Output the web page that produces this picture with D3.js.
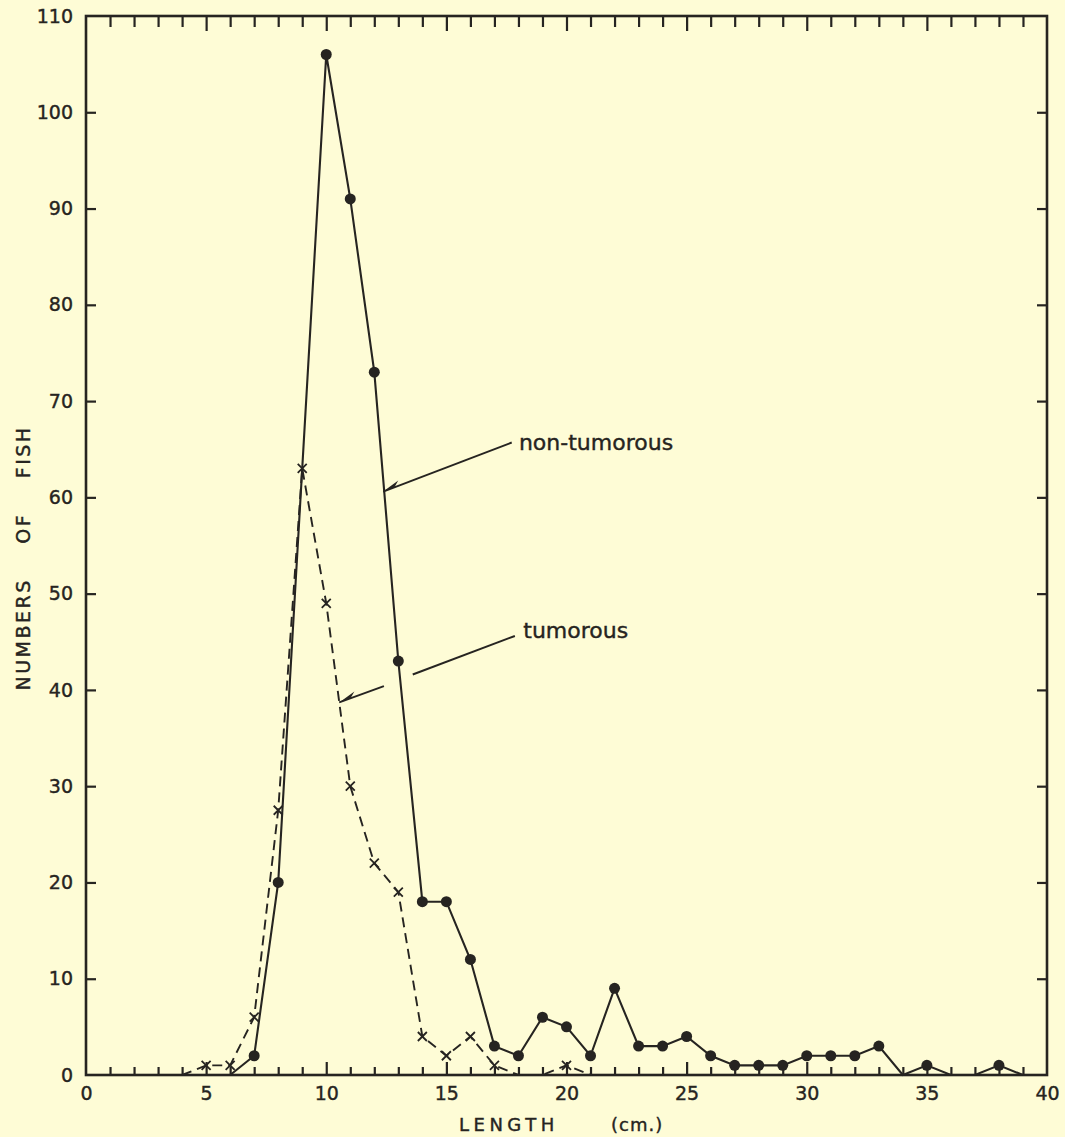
<!DOCTYPE html>
<html>
<head>
<meta charset="utf-8">
<script src="https://cdn.jsdelivr.net/npm/d3@7"></script>
<style>
  body { margin: 0; background: #fefcd6; }
  svg { display: block; }
</style>
</head>
<body>
<svg id="chart"></svg>
<script>
// lengths (cm) and counts
var nonTumorousLength = [6, 7, 8, 10, 11, 12, 13, 14, 15, 16, 17, 18, 19, 20, 21, 22, 23, 24, 25, 26, 27, 28, 29, 30, 31, 32, 33, 34, 35, 36, 37, 38, 39];
var nonTumorousCount  = [0, 2, 20, 106, 91, 73, 43, 18, 18, 12, 3, 2, 6, 5, 2, 9, 3, 3, 4, 2, 1, 1, 1, 2, 2, 2, 3, 0, 1, 0, 0, 1, 0];

var tumorousLength = [4, 5, 6, 7, 8, 9, 10, 11, 12, 13, 14, 15, 16, 17, 18, 19, 20, 21];
var tumorousCount  = [0, 1, 1, 6, 27.5, 63, 49, 30, 22, 19, 4, 2, 4, 1, 0, 0, 1, 0];

var xTickLabels = [0, 5, 10, 15, 20, 25, 30, 35, 40];
var yTickLabels = [0, 10, 20, 30, 40, 50, 60, 70, 80, 90, 100, 110];

var width = 1065, height = 1137;
var ink = "#262421";
var font = "'DejaVu Sans', sans-serif";

var svg = d3.select("#chart")
    .attr("width", width)
    .attr("height", height)
    .style("background", "#fefcd6");

var x = d3.scaleLinear().domain([0, 40]).range([86, 1047]);
var y = d3.scaleLinear().domain([0, 110]).range([1075, 16]);

var nonTum = nonTumorousLength.map(function(l, i) { return [l, nonTumorousCount[i]]; });
var tum = tumorousLength.map(function(l, i) { return [l, tumorousCount[i]]; });

// frame
svg.append("rect")
    .attr("x", x(0)).attr("y", y(110))
    .attr("width", x(40) - x(0)).attr("height", y(0) - y(110))
    .attr("fill", "none").attr("stroke", ink).attr("stroke-width", 2.6);

var everyCm = d3.range(0, 41);

// bottom axis, ticks inward
var gBottom = svg.append("g")
    .attr("transform", "translate(0," + y(0) + ")")
    .call(d3.axisBottom(x).tickValues(everyCm).tickSizeInner(-8).tickSizeOuter(0).tickPadding(12)
        .tickFormat(function(d) { return xTickLabels.indexOf(d) >= 0 ? d : ""; }));
gBottom.selectAll(".tick line").filter(function(d) { return d % 5 === 0; }).attr("y2", -13);

// top axis, ticks inward
var gTop = svg.append("g")
    .attr("transform", "translate(0," + y(110) + ")")
    .call(d3.axisTop(x).tickValues(everyCm).tickSizeInner(-11).tickSizeOuter(0).tickFormat(""));
gTop.selectAll(".tick line").filter(function(d) { return d % 5 === 0; }).attr("y2", 15);

// left axis
var gLeft = svg.append("g")
    .attr("transform", "translate(" + x(0) + ",0)")
    .call(d3.axisLeft(y).tickValues(yTickLabels).tickSizeInner(-10).tickSizeOuter(0).tickPadding(13));

// right axis
var gRight = svg.append("g")
    .attr("transform", "translate(" + x(40) + ",0)")
    .call(d3.axisRight(y).tickValues(yTickLabels).tickSizeInner(-10).tickSizeOuter(0).tickFormat(""));

svg.selectAll(".domain").remove();
svg.selectAll(".tick line").attr("stroke", ink).attr("stroke-width", 2.2);
svg.selectAll(".tick text").attr("fill", ink)
    .attr("stroke", ink).attr("stroke-width", 0.4)
    .style("font-family", font).style("font-size", "19px");
// edge ticks sit on the frame anyway
gLeft.selectAll(".tick line").filter(function(d) { return d === 0 || d === 110; }).remove();
gRight.selectAll(".tick line").filter(function(d) { return d === 0 || d === 110; }).remove();
gTop.selectAll(".tick line").filter(function(d) { return d === 0 || d === 40; }).remove();
gBottom.selectAll(".tick line").filter(function(d) { return d === 0 || d === 40; }).remove();

var line = d3.line()
    .x(function(d) { return x(d[0]); })
    .y(function(d) { return y(d[1]); });

// tumorous, dashed with x markers
svg.append("path")
    .datum(tum)
    .attr("d", line)
    .attr("fill", "none").attr("stroke", ink)
    .attr("stroke-width", 1.9).attr("stroke-dasharray", "10,6");

svg.selectAll(".xmark")
    .data(tum.filter(function(d) { return d[1] > 0; }))
    .enter().append("path")
    .attr("class", "xmark")
    .attr("transform", function(d) { return "translate(" + x(d[0]) + "," + y(d[1]) + ")"; })
    .attr("d", "M-4.5,-4.5L4.5,4.5M-4.5,4.5L4.5,-4.5")
    .attr("stroke", ink).attr("stroke-width", 1.8);

// non-tumorous, solid with dots
svg.append("path")
    .datum(nonTum)
    .attr("d", line)
    .attr("fill", "none").attr("stroke", ink).attr("stroke-width", 2.1);

svg.selectAll(".dot")
    .data(nonTum.filter(function(d) { return d[1] > 0; }))
    .enter().append("circle")
    .attr("class", "dot")
    .attr("cx", function(d) { return x(d[0]); })
    .attr("cy", function(d) { return y(d[1]); })
    .attr("r", 5.5)
    .attr("fill", ink);

// labels with pointer lines (data units)
function barb(tip, from) {
    var tx = x(tip[0]), ty = y(tip[1]);
    var fx = x(from[0]), fy = y(from[1]);
    var dx = fx - tx, dy = fy - ty, len = Math.sqrt(dx * dx + dy * dy);
    var ux = dx / len, uy = dy / len;
    var bx = tx + ux * 18, by = ty + uy * 18;
    return "M" + tx + "," + ty + "L" + (bx + uy * 5) + "," + (by - ux * 5) + "L" + (tx + ux * 12) + "," + (ty + uy * 12) + "Z";
}

function label(sel) {
    sel.attr("fill", ink).attr("stroke", ink).attr("stroke-width", 0.4)
        .style("font-family", font);
}

var nonTumArrow = [[17.72, 65.7], [12.37, 60.6]];
svg.append("path")
    .attr("d", line(nonTumArrow))
    .attr("stroke", ink).attr("stroke-width", 1.9).attr("fill", "none");
svg.append("path").attr("d", barb(nonTumArrow[1], nonTumArrow[0])).attr("fill", ink);
svg.append("text")
    .attr("x", x(18.02)).attr("y", y(64.9))
    .call(label).style("font-size", "22px")
    .text("non-tumorous");

var tumArrowA = [[17.85, 45.6], [13.6, 41.6]];
var tumArrowB = [[12.4, 40.4], [10.54, 38.7]];
svg.append("path")
    .attr("d", line(tumArrowA))
    .attr("stroke", ink).attr("stroke-width", 1.9).attr("fill", "none");
svg.append("path")
    .attr("d", line(tumArrowB))
    .attr("stroke", ink).attr("stroke-width", 1.9).attr("fill", "none");
svg.append("path").attr("d", barb(tumArrowB[1], tumArrowB[0])).attr("fill", ink);
svg.append("text")
    .attr("x", x(18.2)).attr("y", y(45.4))
    .call(label).style("font-size", "22px")
    .text("tumorous");

// axis titles
svg.append("text")
    .attr("x", 459).attr("y", 1131)
    .call(label).style("font-size", "18px")
    .style("letter-spacing", "4.5px")
    .text("LENGTH");
svg.append("text")
    .attr("x", 611).attr("y", 1131)
    .call(label).style("font-size", "18px")
    .style("letter-spacing", "1px")
    .text("(cm.)");

svg.append("text")
    .attr("transform", "translate(30,558) rotate(-90)")
    .attr("text-anchor", "middle")
    .call(label).style("font-size", "19px")
    .style("letter-spacing", "2.5px").style("word-spacing", "26px")
    .text("NUMBERS OF FISH");
</script>
</body>
</html>
